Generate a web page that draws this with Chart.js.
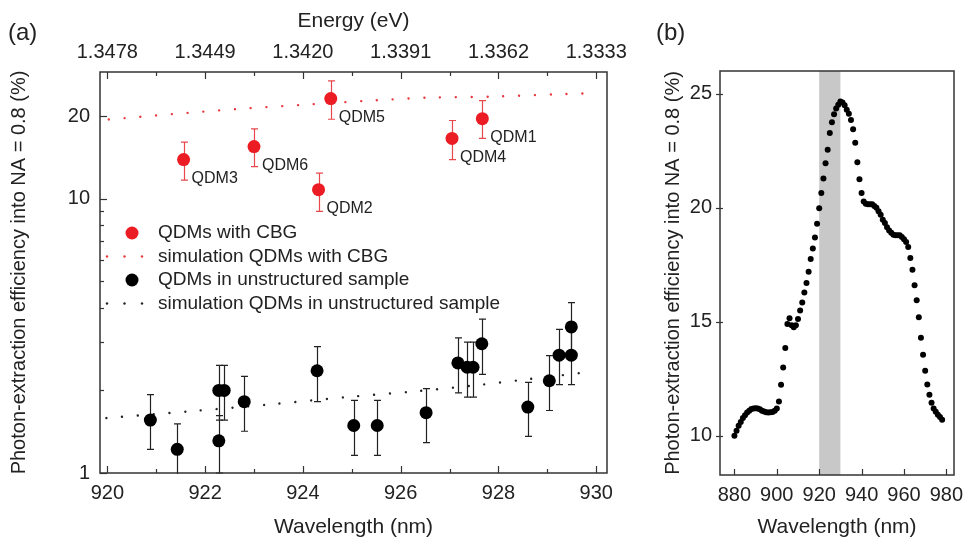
<!DOCTYPE html>
<html>
<head>
<meta charset="utf-8">
<title>Photon-extraction efficiency</title>
<script src="https://cdn.jsdelivr.net/npm/chart.js@4.4.1/dist/chart.umd.min.js"></script>
<style>
  html, body { margin: 0; padding: 0; background: #fff; }
  #wrap { position: relative; width: 965px; height: 540px; }
  #boxA { position: absolute; left: 0; top: 0; width: 640px; height: 540px; }
  #boxB { position: absolute; left: 640px; top: 0; width: 325px; height: 540px; }
</style>
</head>
<body>
<div id="wrap">
  <div id="boxA"><canvas id="chartA"></canvas></div>
  <div id="boxB"><canvas id="chartB"></canvas></div>
</div>
<script>
// ---- Panel (a): QDMs with CBG ----
const cbgNames = ['QDM3', 'QDM6', 'QDM2', 'QDM5', 'QDM4', 'QDM1'];
const cbgWavelength = [921.56, 923.0, 924.32, 924.57, 927.05, 927.67];
const cbgEff = [13.9, 15.5, 10.8, 23.2, 16.6, 19.6];
const cbgErrLow = [11.7, 13.1, 9.0, 19.5, 13.9, 16.6];
const cbgErrHigh = [16.1, 18.0, 12.4, 26.9, 19.3, 22.8];

// simulation for CBG
const simCbgWavelength = [920.03, 921.34, 922.64, 923.93, 925.24, 926.57, 927.87, 929.16, 929.81];
const simCbgEff = [19.47, 20.37, 21.24, 21.97, 22.73, 23.38, 23.58, 24.04, 24.24];

// QDMs in unstructured sample
const refWavelength = [920.88, 921.43, 922.28, 922.28, 922.39, 922.8, 924.29, 925.04, 925.52, 926.52,
  927.17, 927.36, 927.48, 927.66, 928.6, 929.04, 929.24, 929.49, 929.49];
const refEff = [1.56, 1.22, 1.31, 2.0, 2.0, 1.82, 2.36, 1.49, 1.49, 1.66,
  2.52, 2.43, 2.43, 2.96, 1.74, 2.17, 2.69, 2.69, 3.41];
const refErrLow = [1.22, 0.97, 1.0, 1.56, 1.56, 1.42, 1.82, 1.16, 1.16, 1.29,
  1.96, 1.89, 1.89, 2.29, 1.36, 1.69, 2.1, 2.1, 2.63];
const refErrHigh = [1.93, 1.51, 1.62, 2.47, 2.47, 2.25, 2.89, 1.84, 1.84, 2.03,
  3.11, 3.0, 3.0, 3.64, 2.14, 2.68, 3.34, 3.34, 4.18];

// simulation for unstructured sample
const simRefWavelength = [919.98, 921.66, 923.27, 924.93, 926.23, 927.53, 928.52, 929.81];
const simRefEff = [1.586, 1.677, 1.775, 1.894, 1.98, 2.088, 2.19, 2.33];

// axis ticks for (a)
const xTicksA = [920, 922, 924, 926, 928, 930];
const energyLabels = ['1.3478', '1.3449', '1.3420', '1.3391', '1.3362', '1.3333'];
const yTicksA = [1, 10, 20];

// ---- Panel (b): simulated spectrum ----
const specWavelength = [
  880, 881, 882, 883, 884, 885, 886, 887, 888, 889, 890, 891, 892, 893, 894, 895, 896, 897, 898, 899,
  900, 901, 902, 903, 904, 905, 906, 907, 908, 909, 910, 911, 912, 913, 914, 915, 916, 917, 918, 919,
  920, 921, 922, 923, 924, 925, 926, 927, 928, 929, 930, 931, 932, 933, 934, 935, 936, 937, 938, 939,
  940, 941, 942, 943, 944, 945, 946, 947, 948, 949, 950, 951, 952, 953, 954, 955, 956, 957, 958, 959,
  960, 961, 962, 963, 964, 965, 966, 967, 968, 969, 970, 971, 972, 973, 974, 975, 976, 977, 978
];
const specEff = [
  10.0, 10.22, 10.44, 10.6, 10.78, 10.9, 11.02, 11.1, 11.17, 11.2, 11.21, 11.2, 11.16, 11.1, 11.06, 11.03, 11.02, 11.03, 11.04, 11.1,
  11.2, 11.5, 12.24, 13.0, 13.85, 14.9, 15.15, 14.85, 14.76, 14.85, 15.12, 15.5, 15.85, 16.28, 16.7, 17.2, 17.75, 18.22, 18.7, 19.3,
  19.98, 20.65, 21.28, 21.95, 22.55, 23.28, 23.75, 24.1, 24.35, 24.52, 24.66, 24.62, 24.5, 24.3, 24.12, 23.85, 23.45, 22.85, 22.0, 21.25,
  20.65, 20.28, 20.18, 20.15, 20.15, 20.15, 20.08, 20.0, 19.85, 19.7, 19.48, 19.33, 19.15, 19.0, 18.9, 18.82, 18.8, 18.8, 18.8, 18.72,
  18.62, 18.5, 18.28, 17.8, 17.28, 16.6, 15.95, 15.2, 14.3, 13.55, 12.85, 12.25, 11.8, 11.45, 11.2, 11.05, 10.92, 10.82, 10.7
];
const bandRange = [920, 930];
const xTicksB = [880, 900, 920, 940, 960, 980];
const yTicksB = [10, 15, 20, 25];

const RED = '#ec1c24';
const TEXT = '#222';
const AXIS = '#333';

Chart.defaults.font.family = '"Liberation Sans", Arial, sans-serif';
Chart.defaults.color = TEXT;

function toPoints(xs, ys) {
  return xs.map((x, i) => ({ x: x, y: ys[i] }));
}

// frame + tick marks
const frameTicks = {
  id: 'frameTicks',
  afterDraw(chart, args, opts) {
    const { ctx, chartArea: a } = chart;
    ctx.save();
    ctx.strokeStyle = AXIS;
    ctx.lineWidth = 1.5;
    ctx.strokeRect(a.left, a.top, a.right - a.left, a.bottom - a.top);
    ctx.lineWidth = 1.2;
    (opts.marks || []).forEach(m => {
      const s = chart.scales[m.axis];
      m.values.forEach(v => {
        const p = Math.round(s.getPixelForValue(v)) + 0.5;
        const len = m.len(v);
        ctx.beginPath();
        if (m.side === 'bottom') { ctx.moveTo(p, a.bottom + (m.out || 0)); ctx.lineTo(p, a.bottom - len); }
        if (m.side === 'top') { ctx.moveTo(p, a.top); ctx.lineTo(p, a.top + len); }
        if (m.side === 'left') { ctx.moveTo(a.left - (m.out || 0), p); ctx.lineTo(a.left + len, p); }
        ctx.stroke();
      });
    });
    ctx.restore();
  }
};

// error bars for datasets that carry errLow / errHigh
const errorBars = {
  id: 'errorBars',
  beforeDatasetsDraw(chart) {
    const { ctx, chartArea: a } = chart;
    ctx.save();
    ctx.beginPath();
    ctx.rect(a.left, a.top - 1, a.right - a.left, a.bottom - a.top + 2);
    ctx.clip();
    chart.data.datasets.forEach((ds, di) => {
      if (!ds.errLow) return;
      const meta = chart.getDatasetMeta(di);
      const ys = chart.scales[meta.yAxisID];
      ctx.strokeStyle = ds.errColor;
      ctx.lineWidth = 1.2;
      meta.data.forEach((pt, i) => {
        const x = Math.round(pt.x) + 0.5;
        const y1 = ys.getPixelForValue(ds.errLow[i]);
        const y2 = ys.getPixelForValue(ds.errHigh[i]);
        ctx.beginPath();
        ctx.moveTo(x, y1); ctx.lineTo(x, y2);
        ctx.moveTo(x - 3.5, y1); ctx.lineTo(x + 3.5, y1);
        ctx.moveTo(x - 3.5, y2); ctx.lineTo(x + 3.5, y2);
        ctx.stroke();
      });
    });
    ctx.restore();
  }
};

// QDM names next to the CBG points
const pointNames = {
  id: 'pointNames',
  afterDatasetsDraw(chart) {
    const { ctx } = chart;
    const ds = chart.data.datasets[0];
    const meta = chart.getDatasetMeta(0);
    ctx.save();
    ctx.font = '16px "Liberation Sans", Arial, sans-serif';
    ctx.fillStyle = TEXT;
    ctx.textAlign = 'left';
    ctx.textBaseline = 'middle';
    meta.data.forEach((pt, i) => {
      ctx.fillText(ds.names[i], pt.x + 8, pt.y + 19);
    });
    ctx.restore();
  }
};

// legend drawn inside the plot
const innerLegend = {
  id: 'innerLegend',
  afterDatasetsDraw(chart, args, opts) {
    if (!opts.show) return;
    const { ctx } = chart;
    ctx.save();
    ctx.font = '19px "Liberation Sans", Arial, sans-serif';
    ctx.textAlign = 'left';
    ctx.textBaseline = 'middle';
    chart.data.datasets.forEach((ds, i) => {
      const y = opts.y0 + i * opts.dy;
      if (ds.showLine) {
        ctx.fillStyle = ds.borderColor;
        [-25, -7.5, 10].forEach(dx => {
          ctx.beginPath();
          ctx.arc(opts.x + dx, y, ds.borderWidth / 2, 0, Math.PI * 2);
          ctx.fill();
        });
      } else {
        ctx.fillStyle = ds.backgroundColor;
        ctx.beginPath();
        ctx.arc(opts.x, y, ds.pointRadius, 0, Math.PI * 2);
        ctx.fill();
      }
      ctx.fillStyle = TEXT;
      ctx.fillText(ds.label, opts.textX, y);
    });
    ctx.restore();
  }
};

// panel tag "(a)" / "(b)"
const panelTag = {
  id: 'panelTag',
  afterDraw(chart, args, opts) {
    const { ctx } = chart;
    ctx.save();
    ctx.font = '24px "Liberation Sans", Arial, sans-serif';
    ctx.fillStyle = TEXT;
    ctx.textAlign = 'left';
    ctx.textBaseline = 'middle';
    ctx.fillText(opts.text, opts.x, opts.y);
    ctx.restore();
  }
};

// grey band in panel (b)
const band = {
  id: 'band',
  beforeDatasetsDraw(chart, args, opts) {
    if (!opts.range) return;
    const { ctx, chartArea: a, scales } = chart;
    const x1 = scales.x.getPixelForValue(opts.range[0]);
    const x2 = scales.x.getPixelForValue(opts.range[1]);
    ctx.save();
    ctx.fillStyle = '#c8c8c8';
    ctx.fillRect(x1, a.top, x2 - x1, a.bottom - a.top);
    ctx.restore();
  }
};

const every = (from, to, step) => {
  const out = [];
  for (let v = from; v <= to + 1e-9; v += step) out.push(v);
  return out;
};

// fixed box sizes so the plot areas land where the reference has them
const fixHeight = h => s => { s.height = h; s.paddingLeft = 0; s.paddingRight = 0; };
const fixWidth = w => s => { s.width = w; s.paddingTop = 0; s.paddingBottom = 0; };
const noGrid = { display: false, drawTicks: false };

/**
 * Panel (a)
 */
new Chart(document.getElementById('chartA'), {
  type: 'scatter',
  data: {
    datasets: [
      {
        label: 'QDMs with CBG',
        data: toPoints(cbgWavelength, cbgEff),
        backgroundColor: RED,
        borderColor: RED,
        borderWidth: 0,
        pointRadius: 6.5,
        errLow: cbgErrLow,
        errHigh: cbgErrHigh,
        errColor: '#e8474c',
        names: cbgNames
      },
      {
        label: 'simulation QDMs with CBG',
        data: toPoints(simCbgWavelength, simCbgEff),
        showLine: true,
        borderColor: '#e8383d',
        borderWidth: 2.4,
        borderDash: [0.01, 15.8],
        borderCapStyle: 'round',
        pointRadius: 0,
        tension: 0.3
      },
      {
        label: 'QDMs in unstructured sample',
        data: toPoints(refWavelength, refEff),
        backgroundColor: '#000',
        borderColor: '#000',
        borderWidth: 0,
        pointRadius: 6.5,
        errLow: refErrLow,
        errHigh: refErrHigh,
        errColor: '#222'
      },
      {
        label: 'simulation QDMs in unstructured sample',
        data: toPoints(simRefWavelength, simRefEff),
        showLine: true,
        borderColor: '#222',
        borderWidth: 2.4,
        borderDash: [0.01, 15.8],
        borderCapStyle: 'round',
        pointRadius: 0,
        tension: 0.3
      }
    ]
  },
  options: {
    responsive: true,
    maintainAspectRatio: false,
    animation: false,
    layout: { padding: { right: 33 } },
    plugins: {
      legend: { display: false },
      tooltip: { enabled: false },
      innerLegend: { show: true, x: 132, y0: 233, dy: 23.5, textX: 158 },
      panelTag: { text: '(a)', x: 8, y: 33 },
      frameTicks: {
        marks: [
          { axis: 'x', side: 'bottom', values: every(920, 930, 1), len: v => (v % 2 === 0 ? 7 : 4) },
          { axis: 'x', side: 'top', values: every(920, 930, 1), len: v => (v % 2 === 0 ? 7 : 4) },
          { axis: 'y', side: 'left', values: [1, 2, 3, 4, 5, 6, 7, 8, 9, 10, 20], len: v => (yTicksA.includes(v) ? 7 : 4) }
        ]
      }
    },
    scales: {
      x: {
        type: 'linear',
        position: 'bottom',
        min: 919.85,
        max: 930.22,
        afterBuildTicks: s => { s.ticks = xTicksA.map(v => ({ value: v })); },
        afterFit: fixHeight(67),
        grid: noGrid,
        border: { display: false },
        ticks: { padding: 8, autoSkip: false, maxRotation: 0, font: { size: 20 }, color: TEXT, callback: v => String(v) },
        title: { display: true, text: 'Wavelength (nm)', font: { size: 21 }, color: TEXT, padding: { top: 0, bottom: 0 } }
      },
      x2: {
        type: 'linear',
        position: 'top',
        min: 919.85,
        max: 930.22,
        afterBuildTicks: s => { s.ticks = xTicksA.map(v => ({ value: v })); },
        afterFit: fixHeight(72),
        grid: noGrid,
        border: { display: false },
        ticks: { padding: 8, autoSkip: false, maxRotation: 0, font: { size: 20 }, color: TEXT, callback: (v, i) => energyLabels[i] },
        title: { display: true, text: 'Energy (eV)', font: { size: 21 }, color: TEXT, padding: { top: 9, bottom: 0 } }
      },
      y: {
        type: 'logarithmic',
        min: 1,
        max: 29,
        afterBuildTicks: s => { s.ticks = yTicksA.map(v => ({ value: v })); },
        afterFit: fixWidth(100),
        grid: noGrid,
        border: { display: false },
        ticks: { padding: 10, autoSkip: false, font: { size: 20 }, color: TEXT, callback: v => String(v) },
        title: { display: true, text: 'Photon-extraction efficiency into NA = 0.8 (%)', font: { size: 20 }, color: TEXT, padding: { top: 7, bottom: 0 } }
      }
    }
  },
  plugins: [band, errorBars, pointNames, innerLegend, frameTicks, panelTag]
});

/**
 * Panel (b)
 */
new Chart(document.getElementById('chartB'), {
  type: 'scatter',
  data: {
    datasets: [{
      label: 'simulation',
      data: toPoints(specWavelength, specEff),
      backgroundColor: '#000',
      borderWidth: 0,
      pointRadius: 3
    }]
  },
  options: {
    responsive: true,
    maintainAspectRatio: false,
    animation: false,
    layout: { padding: { top: 71, right: 11 } },
    plugins: {
      legend: { display: false },
      tooltip: { enabled: false },
      band: { range: bandRange },
      panelTag: { text: '(b)', x: 16, y: 33 },
      frameTicks: {
        marks: [
          { axis: 'x', side: 'bottom', values: xTicksB, len: () => 6 },
          { axis: 'y', side: 'left', values: yTicksB, len: () => 3, out: 4 }
        ]
      }
    },
    scales: {
      x: {
        type: 'linear',
        min: 873.2,
        max: 983.6,
        afterBuildTicks: s => { s.ticks = xTicksB.map(v => ({ value: v })); },
        afterFit: fixHeight(65),
        grid: noGrid,
        border: { display: false },
        ticks: { padding: 8, autoSkip: false, maxRotation: 0, font: { size: 20 }, color: TEXT, callback: v => String(v) },
        title: { display: true, text: 'Wavelength (nm)', font: { size: 21 }, color: TEXT, padding: { top: 0, bottom: 0 } }
      },
      y: {
        type: 'linear',
        min: 8.28,
        max: 26,
        afterBuildTicks: s => { s.ticks = yTicksB.map(v => ({ value: v })); },
        afterFit: fixWidth(80),
        grid: noGrid,
        border: { display: false },
        ticks: { padding: 8, autoSkip: false, font: { size: 20 }, color: TEXT, callback: v => String(v) },
        title: { display: true, text: 'Photon-extraction efficiency into NA = 0.8 (%)', font: { size: 20 }, color: TEXT, padding: { top: 21, bottom: 0 } }
      }
    }
  },
  plugins: [band, frameTicks, panelTag]
});
</script>
</body>
</html>
